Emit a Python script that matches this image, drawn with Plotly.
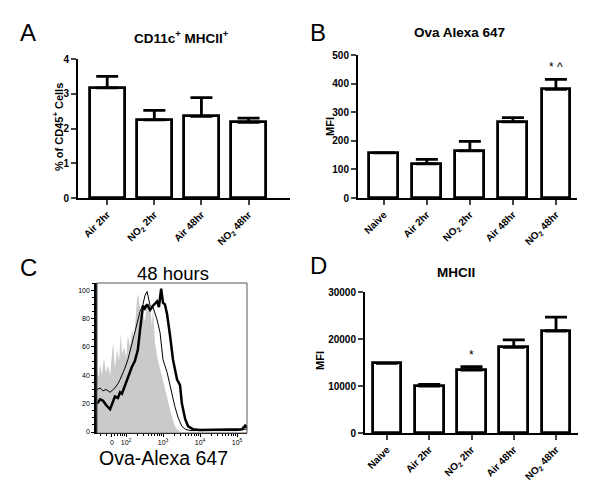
import plotly.graph_objects as go

FONT = "Liberation Sans, Arial, sans-serif"

# panel A - CD11c+ MHCII+ cells as % of CD45+
groups_a = ["Air 2hr", "NO<sub>2</sub> 2hr", "Air 48hr", "NO<sub>2</sub> 48hr"]
cd11c_pct = [3.17, 2.25, 2.35, 2.18]
cd11c_sem = [0.33, 0.27, 0.54, 0.12]

# panel B - Ova Alexa 647 MFI
groups_b = ["Naive", "Air 2hr", "NO<sub>2</sub> 2hr", "Air 48hr", "NO<sub>2</sub> 48hr"]
ova_mfi = [158, 119, 165, 266, 380]
ova_sem = [0, 16, 33, 15, 35]

# panel D - MHCII MFI
mhcii_mfi = [14800, 10000, 13400, 18200, 21700]
mhcii_sem = [0, 350, 700, 1600, 2950]

# panel C - 48 hour histogram (x in decades on the display scale, y = % of max)
gray_x = [1.22, 1.26, 1.30, 1.35, 1.40, 1.46, 1.51, 1.57, 1.62, 1.65, 1.70, 1.76, 1.81,
          1.86, 1.89, 1.95, 2.00, 2.05, 2.11, 2.16, 2.22, 2.27, 2.30, 2.33, 2.38, 2.43,
          2.46, 2.51, 2.57, 2.62, 2.65, 2.70, 2.73, 2.78, 2.86, 2.97, 3.05, 3.14, 3.24,
          3.32, 3.41, 3.50, 5.27]
gray_y = [45, 38, 48, 40, 52, 42, 47, 40, 55, 63, 45, 58, 50,
          70, 55, 60, 52, 68, 60, 72, 65, 80, 95, 97, 85, 77,
          82, 78, 90, 88, 89, 75, 87, 63, 51, 39, 30, 20, 11,
          4, 1, 0, 0]

thin_x = [1.22, 1.30, 1.38, 1.46, 1.57, 1.65, 1.70, 1.78, 1.84, 1.97, 2.05, 2.16, 2.24,
          2.32, 2.38, 2.46, 2.51, 2.57, 2.65, 2.73, 2.84, 2.92, 3.00, 3.11, 3.19, 3.32,
          3.41, 3.51, 3.60, 3.73, 4.00, 5.00, 5.22, 5.27]
thin_y = [30, 31, 29, 30, 28, 30, 31, 34, 37, 45, 51, 62, 70,
          80, 85, 90, 96, 99, 89, 88, 79, 70, 51, 42, 32, 18,
          10, 4, 2, 1, 1, 1, 2, 2]

thick_x = [1.22, 1.30, 1.38, 1.46, 1.57, 1.65, 1.70, 1.78, 1.84, 1.89, 1.97, 2.03, 2.11,
           2.16, 2.24, 2.32, 2.38, 2.46, 2.51, 2.57, 2.65, 2.73, 2.84, 2.89, 2.95, 3.00,
           3.05, 3.11, 3.19, 3.27, 3.38, 3.46, 3.51, 3.60, 3.68, 3.81, 4.00, 4.54, 5.08,
           5.14, 5.22, 5.27]
thick_y = [20, 23, 22, 19, 16, 22, 25, 24, 28, 27, 33, 37, 42,
           46, 50, 58, 72, 89, 87, 90, 86, 89, 92, 88, 101, 91,
           90, 83, 68, 51, 37, 33, 20, 9, 4, 2, 1.5, 1.5, 1.5,
           2, 4.5, 3]

hist_tickvals = [1.62, 2, 3, 4, 5]
hist_ticktext = ["0", "10<sup>2</sup>", "10<sup>3</sup>", "10<sup>4</sup>", "10<sup>5</sup>"]

# the page body adds an 8px margin, so the figure is drawn a bit smaller and
# layout positions are given in page pixels then converted to paper coords
OFF = 8
W, H = 600 - OFF, 492 - OFF


def px(x):
    return (x - OFF) / W


def py(y):
    return 1 - (y - OFF) / H


def bar_trace(x, y, err, xa, ya, width):
    return go.Bar(
        x=x, y=y, xaxis=xa, yaxis=ya, width=width,
        marker=dict(color="white", line=dict(color="black", width=2.8)),
        error_y=dict(type="data", array=err, arrayminus=[0] * len(err), symmetric=False,
                     color="black", thickness=2.8, width=11),
        showlegend=False, hoverinfo="skip",
    )


def bar_xaxis(x0, x1, anchor, rng):
    return dict(domain=[px(x0), px(x1)], anchor=anchor, range=rng, showline=True,
                linecolor="black", linewidth=2, ticks="outside", ticklen=5, tickwidth=2,
                tickangle=-45,
                tickfont=dict(family=FONT, size=10, color="black", weight="bold"),
                showgrid=False, zeroline=False, fixedrange=True, automargin=False)


def bar_yaxis(y_top, y_bottom, anchor, rng, dtick):
    return dict(domain=[py(y_bottom), py(y_top)], anchor=anchor, range=rng, dtick=dtick,
                showline=True, linecolor="black", linewidth=2, ticks="outside", ticklen=5,
                tickwidth=2, tickformat="d",
                tickfont=dict(family=FONT, size=10, color="black", weight="bold"),
                showgrid=False, zeroline=False, fixedrange=True, automargin=False)


fig = go.Figure()
fig.add_trace(bar_trace(groups_a, cd11c_pct, cd11c_sem, "x", "y", 0.74))
fig.add_trace(bar_trace(groups_b, ova_mfi, ova_sem, "x2", "y2", 0.67))
fig.add_trace(bar_trace(groups_b, mhcii_mfi, mhcii_sem, "x4", "y4", 0.68))

fig.add_trace(go.Scatter(x=gray_x, y=gray_y, xaxis="x3", yaxis="y3", mode="lines",
                         fill="tozeroy", fillcolor="#cacaca", line=dict(width=0),
                         showlegend=False, hoverinfo="skip"))
fig.add_trace(go.Scatter(x=thin_x, y=thin_y, xaxis="x3", yaxis="y3", mode="lines",
                         line=dict(color="black", width=1), showlegend=False, hoverinfo="skip"))
fig.add_trace(go.Scatter(x=thick_x, y=thick_y, xaxis="x3", yaxis="y3", mode="lines",
                         line=dict(color="black", width=2.5), showlegend=False, hoverinfo="skip"))

minor_vals = [1.3, 1.48, 1.7, 1.78, 1.85, 1.9, 1.95]
for d in [2, 3, 4]:
    minor_vals += [d + v for v in [0.301, 0.477, 0.602, 0.699, 0.778, 0.845, 0.903, 0.954]]

fig.update_layout(
    width=W, height=H,
    margin=dict(l=0, r=0, t=0, b=0, pad=0, autoexpand=False),
    paper_bgcolor="white", plot_bgcolor="white",
    font=dict(family=FONT, color="black"),
    bargap=0,
    showlegend=False,
    xaxis=bar_xaxis(78, 290, "y", [-0.62, 3.88]),
    yaxis=bar_yaxis(59, 198, "x", [0, 4], 1),
    xaxis2=bar_xaxis(358, 577, "y2", [-0.6, 4.49]),
    yaxis2=bar_yaxis(55, 198, "x2", [0, 500], 100),
    xaxis4=bar_xaxis(365, 578, "y4", [-0.52, 4.52]),
    yaxis4=bar_yaxis(292, 433, "x4", [0, 30000], 10000),
    xaxis3=dict(domain=[px(97), px(247)], anchor="y3", range=[1.216, 5.27],
                tickmode="array", tickvals=hist_tickvals, ticktext=hist_ticktext,
                ticks="outside", ticklen=3, tickwidth=1, tickcolor="black",
                minor=dict(tickmode="array", tickvals=minor_vals, ticks="outside",
                           ticklen=2, tickcolor="black"),
                tickfont=dict(family=FONT, size=7, color="black"),
                showline=True, linecolor="black", linewidth=1,
                showgrid=False, zeroline=False, fixedrange=True, automargin=False),
    yaxis3=dict(domain=[py(433), py(283)], anchor="x3", range=[-0.7, 105],
                tickvals=[0, 20, 40, 60, 80, 100], ticks="outside", ticklen=3,
                tickcolor="black", minor=dict(dtick=5, ticks="outside", ticklen=2,
                                              tickcolor="black"),
                tickfont=dict(family=FONT, size=7, color="black"),
                showline=True, linecolor="black", linewidth=2.5,
                showgrid=False, zeroline=False, fixedrange=True, automargin=False),
)

# frame around the histogram
fig.add_shape(type="rect", xref="x3 domain", yref="y3 domain", x0=0, x1=1, y0=0, y1=1,
              line=dict(color="#555555", width=1))

annotations = [
    # panel letters
    dict(text="A", x=px(28), y=py(33), font=dict(size=24)),
    dict(text="B", x=px(318), y=py(33), font=dict(size=24)),
    dict(text="C", x=px(28), y=py(267), font=dict(size=24)),
    dict(text="D", x=px(318), y=py(265), font=dict(size=24)),
    # titles
    dict(text="<b>CD11c<sup>+</sup> MHCII<sup>+</sup></b>", x=px(181), y=py(37),
         font=dict(size=13.5)),
    dict(text="<b>Ova Alexa 647</b>", x=px(459), y=py(33), font=dict(size=13.5)),
    dict(text="<b>MHCII</b>", x=px(456), y=py(272), font=dict(size=13.5)),
    dict(text="48 hours", x=px(173), y=py(273), font=dict(size=18.5)),
    dict(text="Ova-Alexa 647", x=px(163), y=py(458), font=dict(size=19.5)),
    # y axis titles
    dict(text="<b>% of CD45<sup>+</sup> Cells</b>", x=px(58), y=py(127),
         textangle=-90, font=dict(size=11)),
    dict(text="<b>MFI</b>", x=px(330), y=py(127), textangle=-90, font=dict(size=11)),
    dict(text="<b>MFI</b>", x=px(320), y=py(360), textangle=-90, font=dict(size=11)),
]
for a in annotations:
    a.update(xref="paper", yref="paper", showarrow=False, xanchor="center", yanchor="middle")

# significance marks above the bars
annotations.append(dict(text="* ^", xref="x2", yref="y2", x=groups_b[4],
                        y=ova_mfi[4] + ova_sem[4], yshift=12, showarrow=False,
                        font=dict(size=12)))
annotations.append(dict(text="*", xref="x4", yref="y4", x=groups_b[2],
                        y=mhcii_mfi[2] + mhcii_sem[2], yshift=12, showarrow=False,
                        font=dict(size=12)))
fig.update_layout(annotations=annotations)

fig.write_html("out.html")
